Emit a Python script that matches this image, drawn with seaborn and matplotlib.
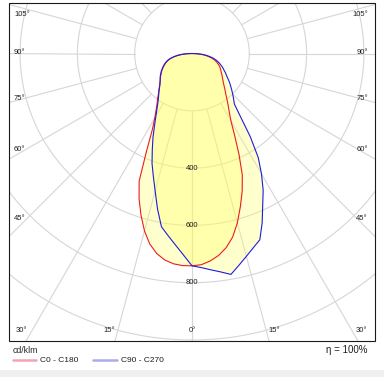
import numpy as np
import pandas as pd
import matplotlib.pyplot as plt
from matplotlib.patches import Rectangle
from matplotlib.lines import Line2D
import seaborn as sns

# luminous intensity distribution, cd/klm, gamma 0..90 deg in 2.5 deg steps
gammas = [0, 2.5, 5, 7.5, 10, 12.5, 15, 17.5, 20, 22.5, 25, 27.5, 30, 32.5, 35, 37.5,
          40, 42.5, 45, 47.5, 50, 52.5, 55, 57.5, 60, 62.5, 65, 67.5, 70, 72.5, 75,
          77.5, 80, 82.5, 85, 87.5, 90]
c0 = [741, 738, 727, 711, 688, 656, 612, 561, 512, 459, 388, 322, 272, 242, 220, 200,
      183, 170, 158, 148, 140, 133, 127, 121, 116, 111, 106, 100, 93, 86, 78, 68,
      57, 45, 32, 16, 0]
c180 = [741, 741, 737, 727, 709, 681, 641, 592, 540, 482, 375, 300, 260, 233, 212, 197,
        182, 171, 160, 152, 145, 139, 133, 127, 122, 116, 110, 104, 98, 91, 84, 74,
        62, 49, 35, 18, 0]
c90 = [741, 748, 758, 769, 783, 757, 733, 711, 692, 640, 584, 538, 485, 430, 355, 278,
       230, 215, 201, 188, 176, 165, 153, 143, 135, 126, 119, 111, 103, 95, 86, 76,
       64, 51, 37, 19, 0]
c270 = [741, 703, 670, 641, 614, 556, 497, 449, 408, 362, 322, 283, 252, 227, 207, 192,
        180, 169, 159, 151, 145, 140, 135, 129, 124, 118, 112, 106, 100, 93, 86, 76,
        64, 51, 36, 19, 0]

planes = ['C0 - C180', 'C90 - C270']
ring_values = [200, 400, 600, 800, 1000, 1200]
ring_labels = [400, 600, 800]
spoke_step = 15

side_labels = ['105°', '90°', '75°', '60°', '45°']
side_label_y = [14, 53, 98, 149, 219]          # px from top
bottom_labels = ['30°', '15°', '0°', '15°', '30°']
bottom_label_x = [21, 109, 192, 274, 361]     # px from left

W, H = 384, 377
cx, cy = 192, 53.5          # pole position in px (from top)
px_per_unit = 0.2865
rmax = 1300

sns.set_theme(style='white')
plt.rcParams['font.family'] = ['Liberation Sans', 'DejaVu Sans']
txt_color = '#1e1e1e'
grid_color = '#d6d6d6'

fig = plt.figure(figsize=(W / 100, H / 100), dpi=100)
rad = rmax * px_per_unit
ax = fig.add_axes([(cx - rad) / W, (H - cy - rad) / H, 2 * rad / W, 2 * rad / H],
                  projection='polar')
ax.set_theta_zero_location('S')
ax.grid(False)
ax.spines['polar'].set_visible(False)
ax.patch.set_visible(False)

# grid: rings and spokes (spokes start at the first ring)
full = np.linspace(0, 2 * np.pi, 721)
for rv in ring_values:
    ax.plot(full, np.full_like(full, rv), color=grid_color, lw=0.8, zorder=1)
for a in np.arange(0, 360, spoke_step):
    t = np.deg2rad(a)
    ax.plot([t, t], [ring_values[0], rmax], color=grid_color, lw=0.8, zorder=1)

# assemble both planes: negative theta = left half
rows = []
for name, left, right in [(planes[0], c180, c0), (planes[1], c270, c90)]:
    th = np.deg2rad(np.concatenate([-np.array(gammas[::-1]), np.array(gammas[1:])]))
    rr = np.concatenate([np.array(left[::-1]), np.array(right[1:])])
    for t, r in zip(th, rr):
        rows.append({'plane': name, 'theta': t, 'r': r})
df = pd.DataFrame(rows)

for name in planes:
    d = df[df['plane'] == name]
    ax.fill(d['theta'], d['r'], color='#ffff5e', alpha=0.3, lw=0, zorder=2)

sns.lineplot(data=df, x='theta', y='r', hue='plane', sort=False, estimator=None,
             palette=['#ee1c1c', '#1c1ce0'], linewidth=0.8, legend=False, ax=ax,
             zorder=3)
ax.set_xlabel('')
ax.set_ylabel('')
ax.set_xticks([])
ax.set_yticks([])
ax.set_ylim(0, rmax)

for rv in ring_labels:
    ax.text(0, rv, str(rv), ha='center', va='center', fontsize=5.5, color=txt_color,
            zorder=4)

# clip everything to the frame
frame = [9 / W, (H - 341) / H, (375 - 9) / W, (341 - 3) / H]
clip = Rectangle(frame[:2], frame[2], frame[3], transform=fig.transFigure)
for art in ax.lines + ax.patches + ax.collections:
    art.set_clip_path(clip)
fig.add_artist(Rectangle(frame[:2], frame[2], frame[3], transform=fig.transFigure,
                         fill=False, ec='#1a1a1a', lw=0.8))

# angle labels
for lab, y in zip(side_labels, side_label_y):
    fig.text(14 / W, (H - y) / H, lab, ha='left', va='center', fontsize=5.5, color=txt_color)
    fig.text(368 / W, (H - y) / H, lab, ha='right', va='center', fontsize=5.5, color=txt_color)
for lab, x in zip(bottom_labels, bottom_label_x):
    fig.text(x / W, (H - 331) / H, lab, ha='center', va='center', fontsize=5.5, color=txt_color)

# legend below the frame
handles = [Line2D([], [], color='#f3a4b2', lw=1.8), Line2D([], [], color='#aaaaee', lw=1.8)]
fig.legend(handles, planes, title='cd/klm', loc='upper left',
           bbox_to_anchor=(13 / W, (H - 346) / H), ncol=2, frameon=False,
           fontsize=6, title_fontsize=6.3, alignment='left', handlelength=2.8,
           handletextpad=0.45, columnspacing=1.8, borderpad=0, borderaxespad=0,
           labelspacing=0.2, labelcolor=txt_color)
fig.text(368 / W, (H - 350) / H, 'η = 100%', ha='right', va='center', fontsize=7,
         color=txt_color)

fig.add_artist(Rectangle((0, 0), 1, 7 / H, transform=fig.transFigure,
                         fc='#f0f0f0', ec='none'))

fig.savefig('out.png', dpi=100)
